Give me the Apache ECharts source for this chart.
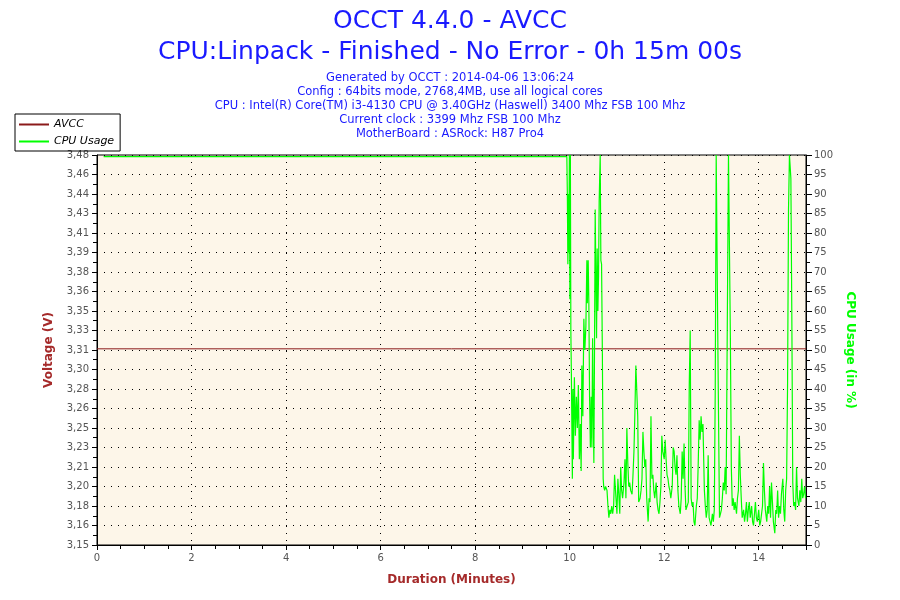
<!DOCTYPE html>
<html>
<head>
<meta charset="utf-8">
<script src="https://cdn.jsdelivr.net/npm/echarts@6/dist/echarts.min.js"></script>
<style>
  html, body { margin: 0; padding: 0; background: #fff; }
  #main { width: 900px; height: 600px; }
</style>
</head>
<body>
<div id="main"></div>
<script>
var myChart = echarts.init(document.getElementById('main'));

// tick labels of the voltage axis
var voltLabels = ['3,15', '3,16', '3,18', '3,20', '3,21', '3,23', '3,25', '3,26', '3,28', '3,30', '3,31',
  '3,33', '3,35', '3,36', '3,38', '3,39', '3,41', '3,43', '3,44', '3,46', '3,48'];

// AVCC stays flat for the whole run
var avccTime = [0, 15];
var avccValue = [3.316, 3.316];

// CPU usage, minutes / percent
var cpuTime = [0.14, 9.94, 9.951, 9.962, 9.972, 9.983, 9.994, 10.004, 10.015, 10.025, 10.036, 10.047, 10.057, 10.068, 10.078,
  10.10, 10.121, 10.142, 10.163, 10.184, 10.205, 10.226, 10.243, 10.258, 10.279, 10.30, 10.321, 10.343, 10.364, 10.374,
  10.392, 10.406, 10.421, 10.438, 10.455, 10.47, 10.485, 10.497, 10.512, 10.527, 10.54, 10.554, 10.569, 10.582, 10.597,
  10.611, 10.624, 10.646, 10.66, 10.675, 10.692, 10.709,
  10.72, 10.74, 10.76, 10.79, 10.81, 10.83, 10.85, 10.87, 10.89, 10.91, 10.93, 10.95, 10.98, 11.00, 11.02, 11.04, 11.06,
  11.08, 11.10, 11.12, 11.15, 11.17, 11.19, 11.21, 11.23, 11.25, 11.27, 11.29, 11.32, 11.34, 11.36, 11.38, 11.40, 11.42,
  11.44, 11.46, 11.49, 11.51, 11.53, 11.55, 11.57, 11.59, 11.61, 11.63, 11.66, 11.68, 11.70, 11.72, 11.74, 11.76, 11.78,
  11.80, 11.83, 11.85, 11.87, 11.89, 11.91, 11.93, 11.95, 11.97, 12.00, 12.02, 12.04, 12.06, 12.08, 12.10, 12.12, 12.14,
  12.17, 12.19, 12.21, 12.23, 12.25, 12.27, 12.29, 12.31, 12.34, 12.36, 12.38, 12.40, 12.42, 12.44, 12.46, 12.48, 12.51,
  12.53, 12.55, 12.57, 12.59, 12.61, 12.63, 12.65, 12.68, 12.70, 12.72, 12.74, 12.76, 12.78, 12.80, 12.82, 12.85, 12.87,
  12.89, 12.91, 12.93, 12.95, 12.97, 12.99, 13.02, 13.04, 13.06, 13.08, 13.10, 13.12, 13.14, 13.17, 13.19, 13.21, 13.23,
  13.25, 13.27, 13.29, 13.31, 13.33, 13.36, 13.38, 13.40, 13.42, 13.44, 13.46, 13.48, 13.50, 13.53, 13.55, 13.57, 13.59,
  13.61, 13.63, 13.65, 13.68, 13.70, 13.72, 13.74, 13.76, 13.78, 13.80, 13.82, 13.85, 13.87, 13.89, 13.91, 13.93, 13.95,
  13.97, 14.00, 14.02, 14.04, 14.06, 14.08, 14.10, 14.12, 14.14, 14.17, 14.19, 14.21, 14.23, 14.25, 14.27, 14.29, 14.31,
  14.34, 14.36, 14.38, 14.40, 14.42, 14.44, 14.46, 14.48, 14.51, 14.53, 14.55, 14.57, 14.59, 14.61, 14.63, 14.65, 14.68,
  14.70, 14.72, 14.74, 14.76, 14.78, 14.80, 14.82, 14.85, 14.87, 14.89, 14.91, 14.93, 14.95, 14.97, 14.99];
var cpuValue = [99.6, 99.6, 90, 72, 90, 75, 100, 63, 100, 55, 44, 30, 17, 40, 22,
  43, 28, 38, 30, 41, 22, 31, 19, 46, 33, 58, 50, 56, 73, 62,
  73, 62, 38, 25, 38, 25, 53, 36, 21, 53, 86, 69, 53, 76, 60,
  69, 88, 100, 73, 72, 49, 17,
  15, 14, 15, 14, 10, 7, 9, 8, 10, 8, 10, 18, 12, 8, 17, 13, 8,
  20, 14, 12, 16, 22, 12, 30, 21, 15, 16, 14, 13, 18, 24, 34, 46, 46,
  33, 11, 12, 14, 17, 29, 24, 20, 22, 12, 6, 12, 11, 33, 17, 18, 14,
  12, 16, 11, 9, 8, 11, 15, 28, 24, 22, 27, 22, 18, 17, 15, 14, 12,
  15, 25, 24, 20, 18, 23, 14, 10, 8, 12, 24, 17, 26, 15, 9, 9, 11,
  41, 55, 12, 10, 11, 6, 5, 10, 12, 21, 32, 27, 33, 29, 31, 14, 10,
  7, 9, 23, 7, 6, 5, 8, 6, 9, 40, 100, 100, 45, 7, 8, 9, 12,
  16, 14, 20, 13, 48, 100, 100, 53, 20, 10, 12, 9, 11, 8, 12, 14, 28,
  18, 12, 7, 9, 6, 8, 11, 6, 9, 11, 7, 10, 6, 5, 8, 11, 7,
  6, 9, 5, 6, 8, 10, 21, 14, 9, 6, 10, 8, 15, 7, 16, 11, 6,
  3, 9, 8, 14, 7, 10, 8, 13, 17, 9, 6, 14, 17, 41, 86, 100, 94,
  59, 16, 10, 11, 9, 20, 12, 10, 14, 11, 17, 12, 13, 15, 12];

var avccData = avccTime.map(function (t, i) { return [t, avccValue[i]]; });
var cpuData = cpuTime.map(function (t, i) { return [t, cpuValue[i]]; });

var blue = '#1a1aff';
var darkRed = '#a52a2a';
var font = 'DejaVu Sans';
var subLines = [
  'Generated by OCCT : 2014-04-06 13:06:24',
  'Config : 64bits mode, 2768,4MB, use all logical cores',
  'CPU : Intel(R) Core(TM) i3-4130 CPU @ 3.40GHz (Haswell) 3400 Mhz FSB 100 Mhz',
  'Current clock : 3399 Mhz FSB 100 Mhz',
  'MotherBoard : ASRock: H87 Pro4'
];

var titles = [
  { text: 'OCCT 4.4.0 - AVCC', left: 'center', top: 4, textStyle: { color: blue, fontFamily: font, fontSize: 25, fontWeight: 'normal' } },
  { text: 'CPU:Linpack - Finished - No Error - 0h 15m 00s', left: 'center', top: 35, textStyle: { color: blue, fontFamily: font, fontSize: 25, fontWeight: 'normal' } }
];
subLines.forEach(function (s, i) {
  titles.push({ text: s, left: 'center', top: 67 + i * 14, textStyle: { color: blue, fontFamily: font, fontSize: 11.5, fontWeight: 'normal' } });
});

var dotted = { color: '#000', width: 1, type: [1, 6] };

var option = {
  animation: false,
  backgroundColor: '#fff',
  title: titles,
  legend: {
    orient: 'vertical',
    left: 15,
    top: 114,
    padding: [5, 6, 4, 4],
    itemGap: 6,
    itemWidth: 30,
    itemHeight: 2,
    borderColor: '#000',
    borderWidth: 1,
    icon: 'rect',
    textStyle: { fontFamily: font, fontSize: 11, fontStyle: 'italic', color: '#000' },
    data: [
      { name: 'AVCC', itemStyle: { color: '#8b1a1a' } },
      { name: 'CPU Usage', itemStyle: { color: '#00ff00' } }
    ]
  },
  grid: {
    left: 97, right: 94, top: 155, bottom: 55,
    show: true, backgroundColor: '#fdf6e9', borderColor: '#000', borderWidth: 1
  },
  xAxis: {
    type: 'value', min: 0, max: 15, interval: 2,
    name: 'Duration (Minutes)', nameLocation: 'middle', nameGap: 29,
    nameTextStyle: { color: darkRed, fontFamily: font, fontSize: 12, fontWeight: 'bold' },
    axisLine: { lineStyle: { color: '#000' } },
    axisTick: { length: 5, lineStyle: { color: '#000' } },
    minorTick: { show: true, splitNumber: 4, length: 4, lineStyle: { color: '#000' } },
    axisLabel: { showMaxLabel: false, color: '#555', fontFamily: font, fontSize: 10, margin: 8 },
    splitLine: { show: true, lineStyle: dotted }
  },
  yAxis: [{
    type: 'value', min: 3.15, max: 3.48, interval: 0.0165,
    name: 'Voltage (V)', nameLocation: 'middle', nameGap: 42,
    nameTextStyle: { color: darkRed, fontFamily: font, fontSize: 12, fontWeight: 'bold' },
    axisLine: { show: true, lineStyle: { color: '#000' } },
    axisTick: { length: 5, lineStyle: { color: '#000' } },
    minorTick: { show: true, splitNumber: 2, length: 4, lineStyle: { color: '#000' } },
    axisLabel: {
      color: '#555', fontFamily: font, fontSize: 10, margin: 8,
      formatter: function (v) { return voltLabels[Math.round((v - 3.15) / 0.0165)] || ''; }
    },
    splitLine: { show: true, lineStyle: dotted }
  }, {
    type: 'value', min: 0, max: 100, interval: 5,
    name: 'CPU Usage (in %)', nameLocation: 'middle', nameGap: 37, nameRotate: -90,
    nameTextStyle: { color: '#00ff00', fontFamily: font, fontSize: 12, fontWeight: 'bold' },
    axisLine: { show: true, lineStyle: { color: '#000' } },
    axisTick: { length: 6, lineStyle: { color: '#000' } },
    minorTick: { show: true, splitNumber: 2, length: 4, lineStyle: { color: '#000' } },
    axisLabel: { color: '#555', fontFamily: font, fontSize: 10, margin: 8 },
    splitLine: { show: false }
  }],
  series: [{
    name: 'AVCC', type: 'line', yAxisIndex: 0, data: avccData,
    showSymbol: false, symbol: 'none',
    itemStyle: { color: '#8b1a1a' }, lineStyle: { color: '#8b1a1a', width: 1 }
  }, {
    name: 'CPU Usage', type: 'line', yAxisIndex: 1, data: cpuData,
    showSymbol: false, symbol: 'none',
    itemStyle: { color: '#00ff00' }, lineStyle: { color: '#00ff00', width: 1.2 }
  }]
};
myChart.setOption(option);
</script>
</body>
</html>
